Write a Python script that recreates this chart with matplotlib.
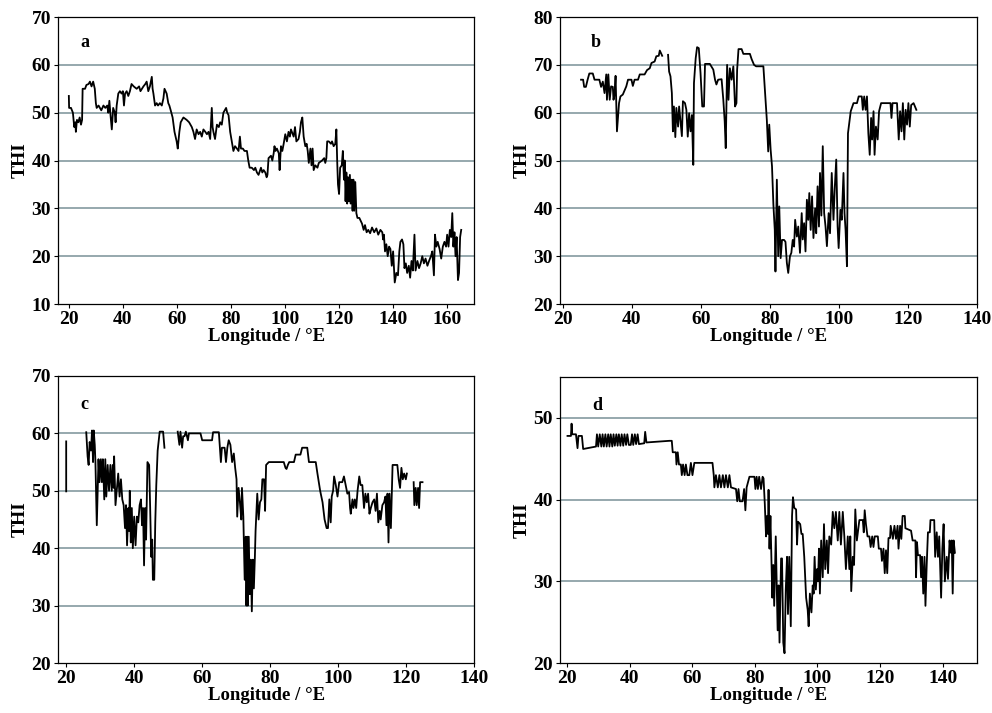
import numpy as np
import matplotlib
matplotlib.use("Agg")
import matplotlib.pyplot as plt

nan = np.nan

# (longitude in °E, THI) along each cruise track; nan marks a gap in the record
track_a = [
    (20.0, 53.5), (20.1, 51.0), (20.8, 51.0), (21.5, 50.0), (22.0, 47.0), (22.4, 48.0), (22.6, 46.0),
    (23.0, 48.5), (23.5, 48.0), (24.0, 49.0), (24.5, 47.5), (24.9, 48.5), (25.1, 55.0), (26.0, 55.0),
    (26.5, 55.8), (27.3, 56.0), (27.8, 56.5), (28.4, 55.5), (29.0, 56.5), (29.6, 55.0), (30.0, 52.0),
    (30.3, 51.0), (31.0, 51.5), (32.0, 50.5), (32.8, 51.5), (33.5, 51.0), (34.2, 51.5), (34.6, 50.0),
    (35.0, 52.5), (35.5, 49.0), (35.9, 46.5), (36.4, 51.0), (37.0, 50.0), (37.3, 48.0), (37.7, 51.5),
    (38.3, 54.0), (38.9, 54.5), (39.5, 54.0), (40.0, 54.5), (40.4, 51.5), (40.8, 54.0), (41.4, 54.5),
    (42.0, 53.5), (42.6, 54.5), (43.2, 56.0), (44.0, 55.5), (45.1, 55.0), (46.0, 55.5), (46.5, 54.5),
    (47.6, 55.5), (48.3, 56.0), (48.8, 56.5), (49.4, 54.5), (50.0, 55.5), (50.7, 57.5), (51.0, 55.0),
    (51.3, 54.0), (51.9, 51.5), (52.5, 52.0), (53.0, 51.5), (53.7, 52.0), (54.4, 51.5), (55.0, 53.0),
    (55.4, 55.0), (56.2, 54.0), (56.8, 52.0), (57.2, 51.5), (57.7, 50.5), (58.4, 49.0), (59.1, 46.0),
    (59.5, 45.0), (59.9, 44.0), (60.3, 42.5), (60.9, 46.0), (61.4, 48.0), (62.4, 49.0), (63.6, 48.5),
    (64.5, 48.0), (65.5, 47.0), (66.1, 46.0), (66.7, 44.5), (67.3, 46.5), (68.0, 45.5), (68.6, 46.0),
    (69.2, 45.0), (69.8, 46.5), (70.5, 46.0), (71.1, 45.5), (71.7, 46.0), (72.3, 44.5), (72.9, 51.0),
    (73.2, 47.0), (73.5, 46.0), (74.1, 44.5), (74.8, 47.5), (75.5, 47.0), (76.0, 48.0), (76.6, 47.5),
    (77.2, 50.0), (77.7, 50.5), (78.2, 51.0), (78.6, 50.0), (79.1, 49.5), (79.7, 46.0), (80.3, 44.0),
    (80.6, 43.0), (80.9, 42.0), (81.5, 43.0), (82.2, 42.5), (82.8, 42.0), (83.3, 45.0), (83.7, 42.5),
    (84.4, 42.5), (85.0, 42.0), (85.9, 42.0), (86.4, 40.0), (86.9, 38.5), (87.7, 38.5), (88.5, 38.0),
    (89.0, 38.5), (89.6, 37.5), (90.2, 37.0), (91.1, 38.5), (91.6, 37.5), (92.1, 38.0), (92.7, 37.5),
    (93.2, 36.5), (93.5, 37.0), (93.9, 40.5), (94.8, 41.0), (95.3, 40.0), (95.8, 41.5), (96.1, 43.0),
    (96.5, 42.0), (97.0, 42.5), (97.7, 41.5), (98.0, 38.0), (98.5, 43.0), (99.0, 42.0), (99.5, 43.5),
    (100.1, 45.5), (100.7, 44.0), (101.3, 46.0), (101.8, 45.0), (102.2, 46.5), (103.2, 45.0),
    (103.7, 47.0), (104.2, 44.0), (105.0, 44.5), (105.5, 46.0), (105.9, 48.0), (106.4, 49.0),
    (106.9, 45.0), (107.5, 43.0), (108.0, 43.5), (108.4, 42.0), (108.8, 39.5), (109.4, 42.5),
    (109.8, 39.0), (110.2, 42.5), (110.6, 38.0), (111.2, 39.0), (112.0, 38.5), (112.5, 39.5),
    (113.7, 40.0), (114.5, 40.5), (114.9, 39.5), (115.3, 40.5), (115.6, 44.0), (116.2, 44.0),
    (117.0, 43.5), (117.4, 44.0), (118.0, 43.0), (118.6, 43.5), (119.0, 46.5), (119.3, 40.0),
    (119.6, 35.0), (120.0, 33.0), (120.4, 38.5), (121.0, 39.0), (121.4, 42.0), (121.8, 36.0),
    (122.1, 40.0), (122.4, 31.5), (122.7, 37.5), (123.0, 31.0), (123.3, 36.5), (123.6, 31.5),
    (124.0, 37.0), (124.3, 31.0), (124.7, 36.0), (125.0, 29.5), (125.3, 36.0), (125.6, 29.5),
    (126.0, 35.5), (126.4, 29.0), (126.8, 28.0), (127.5, 28.0), (128.5, 26.8), (129.1, 25.5),
    (129.6, 26.5), (130.2, 25.0), (130.8, 25.5), (131.5, 24.8), (132.2, 26.0), (133.0, 25.0),
    (133.8, 25.8), (134.5, 24.5), (135.3, 25.5), (136.0, 25.0), (136.3, 23.5), (136.6, 24.5),
    (137.0, 21.0), (137.5, 22.5), (138.0, 20.0), (138.5, 22.0), (139.0, 21.5), (139.5, 18.0),
    (140.0, 21.0), (140.6, 14.5), (141.2, 16.5), (141.8, 16.0), (142.3, 21.0), (142.7, 23.0),
    (143.3, 23.5), (143.8, 22.5), (144.2, 17.5), (144.7, 18.5), (145.2, 16.5), (145.8, 18.0),
    (146.3, 15.5), (146.8, 19.0), (147.3, 17.0), (147.9, 24.5), (148.3, 17.0), (149.0, 19.0),
    (149.6, 17.5), (150.2, 18.5), (150.8, 20.0), (151.4, 18.5), (152.0, 19.5), (152.7, 18.0),
    (153.3, 19.0), (154.0, 20.0), (154.5, 21.0), (155.1, 16.0), (155.5, 24.5), (156.0, 22.0),
    (156.5, 23.0), (157.2, 21.5), (157.8, 19.5), (158.4, 22.0), (159.0, 23.0), (159.6, 22.0),
    (160.0, 24.5), (160.5, 22.0), (161.0, 25.5), (161.5, 24.0), (161.9, 29.0), (162.3, 22.0),
    (162.7, 25.0), (163.1, 20.0), (163.5, 24.0), (164.0, 15.0), (164.4, 16.5), (164.8, 24.0),
    (165.2, 25.5),
]

track_b = [
    (25.3, 66.9), (25.9, 66.9), (26.2, 65.4), (26.7, 65.4), (27.2, 66.9), (27.7, 68.2), (28.7, 68.2),
    (29.2, 66.9), (30.6, 66.9), (31.1, 65.4), (31.6, 66.5), (32.1, 64.1), (32.6, 68.0), (32.8, 62.7),
    (33.2, 68.0), (33.6, 62.7), (34.0, 65.5), (34.5, 65.4), (34.7, 62.7), (35.0, 63.8), (35.3, 67.7),
    (35.7, 56.1), (36.3, 62.0), (36.7, 63.4), (37.4, 63.8), (38.4, 65.5), (38.9, 66.9), (39.9, 66.9),
    (40.3, 65.6), (40.8, 66.9), (41.8, 66.9), (42.3, 68.0), (43.7, 68.0), (44.4, 68.9), (45.2, 69.3),
    (45.7, 70.4), (46.6, 70.7), (47.1, 71.8), (47.8, 71.9), (48.1, 73.0), (48.8, 71.9), (49.5, nan),
    (50.5, 72.1), (50.8, 68.6), (51.2, 67.6), (51.6, 64.1), (51.9, 56.1), (52.2, 61.3), (52.6, 54.9),
    (52.9, 61.0), (53.4, 57.1), (53.7, 61.3), (54.1, 58.2), (54.5, 55.1), (54.8, 62.4), (55.4, 62.0),
    (55.8, 60.6), (56.2, 55.0), (56.6, 59.9), (57.0, 56.1), (57.4, 59.5), (57.8, 49.1), (58.0, 66.2),
    (58.5, 71.4), (58.9, 73.7), (59.4, 73.5), (59.9, 68.3), (60.4, 61.3), (60.9, 61.3), (61.2, 70.2),
    (62.6, 70.2), (63.6, 69.0), (64.1, 66.9), (64.5, 65.9), (65.0, 66.9), (66.0, 67.0), (66.5, 62.7),
    (66.9, 58.2), (67.2, 52.6), (67.6, 70.0), (68.0, 62.7), (68.4, 69.3), (68.9, 66.9), (69.4, 69.7),
    (69.9, 61.3), (70.3, 62.0), (70.5, 69.0), (70.9, 73.3), (71.8, 73.3), (72.3, 72.3), (74.2, 72.3),
    (74.7, 71.2), (75.4, 70.0), (76.0, 69.7), (78.1, 69.7), (78.6, 64.1), (79.1, 58.5), (79.5, 51.9),
    (79.8, 57.5), (80.2, 52.3), (80.6, 48.8), (81.0, 40.8), (81.4, 35.5), (81.6, 26.8), (82.0, 46.0),
    (82.4, 30.0), (82.7, 40.4), (83.1, 29.6), (83.5, 33.4), (84.1, 33.4), (84.5, 33.0), (84.9, 28.6),
    (85.3, 26.5), (85.8, 30.0), (86.2, 30.7), (86.6, 33.4), (87.0, 32.0), (87.3, 37.6), (87.8, 34.1),
    (88.2, 36.2), (88.7, 30.7), (89.2, 39.0), (89.5, 33.5), (89.9, 36.9), (90.3, 31.0), (90.7, 41.8),
    (91.1, 37.6), (91.4, 43.2), (91.8, 35.5), (92.2, 42.5), (92.6, 33.8), (93.1, 40.0), (93.4, 34.8),
    (93.8, 44.6), (94.2, 36.2), (94.5, 47.4), (94.9, 38.5), (95.3, 53.0), (95.7, 39.0), (96.1, 36.2),
    (96.5, 32.1), (97.0, 39.0), (97.4, 34.8), (97.9, 47.4), (98.4, 37.6), (98.8, 44.6), (99.2, 50.2),
    (99.6, 36.2), (99.9, 31.7), (100.4, 39.7), (100.8, 37.6), (101.3, 47.4), (101.6, 39.0),
    (101.9, 35.5), (102.3, 27.9), (102.6, 55.7), (103.1, 58.5), (103.4, 60.3), (104.2, 62.0),
    (105.2, 62.0), (105.7, 63.4), (106.6, 63.4), (106.9, 60.6), (107.3, 63.4), (107.7, 60.6),
    (108.1, 63.4), (108.5, 55.7), (108.9, 51.2), (109.3, 58.9), (109.6, 54.4), (110.0, 60.3),
    (110.3, 51.2), (110.7, 57.1), (111.2, 54.4), (111.6, 60.3), (112.2, 62.0), (114.9, 62.0),
    (115.2, 58.9), (115.5, 62.0), (116.8, 62.0), (117.3, 54.4), (117.7, 60.3), (118.1, 56.1),
    (118.5, 62.0), (118.9, 54.4), (119.3, 60.6), (119.7, 57.5), (120.1, 62.0), (120.5, 57.1),
    (120.9, 61.6), (121.6, 62.0), (122.4, 60.6),
]

track_c = [
    (20.0, 58.6), (20.0, 49.9), (23.0, nan), (25.9, 60.2), (26.3, 56.0), (26.6, 54.5), (26.9, 58.5),
    (27.3, 57.0), (27.6, 60.5), (27.9, 55.0), (28.1, 60.5), (28.4, 58.0), (28.6, 55.0), (29.0, 44.0),
    (29.5, 55.5), (29.8, 51.5), (30.2, 55.5), (30.5, 51.5), (30.8, 55.5), (31.2, 48.5), (31.5, 55.5),
    (31.8, 49.0), (32.2, 54.5), (32.6, 50.0), (33.0, 54.5), (33.4, 50.0), (33.7, 54.5), (34.0, 50.5),
    (34.1, 56.0), (34.5, 47.5), (35.0, 51.0), (35.3, 53.0), (35.7, 49.0), (36.1, 52.0), (36.5, 48.5),
    (36.9, 47.5), (37.3, 43.5), (37.6, 47.5), (37.9, 40.5), (38.3, 47.0), (38.5, 43.0), (38.7, 50.0),
    (39.0, 41.0), (39.3, 47.0), (39.6, 40.0), (40.0, 45.5), (40.4, 40.5), (40.8, 45.5), (41.2, 44.5),
    (41.6, 47.5), (42.0, 48.5), (42.3, 44.0), (42.6, 47.0), (42.9, 37.0), (43.2, 47.0), (43.5, 41.5),
    (43.9, 55.0), (44.4, 54.5), (44.7, 47.0), (45.0, 38.5), (45.3, 41.5), (45.5, 34.5), (45.9, 34.5),
    (46.2, 44.5), (46.5, 51.0), (46.9, 57.0), (47.5, 60.3), (48.5, 60.3), (48.9, 57.5), (51.0, nan),
    (52.8, 60.3), (53.3, 58.0), (53.6, 60.3), (54.1, 57.5), (54.4, 59.5), (54.8, 59.5), (55.2, 60.3),
    (55.8, 58.8), (56.1, 60.0), (57.5, 60.0), (59.5, 60.0), (60.0, 58.8), (62.9, 58.8), (63.2, 60.2),
    (64.9, 60.2), (65.2, 57.5), (65.5, 55.0), (65.8, 57.5), (66.6, 57.5), (67.0, 55.0), (67.4, 57.5),
    (67.8, 58.8), (68.3, 58.0), (68.8, 55.0), (69.3, 56.5), (69.7, 54.0), (70.1, 52.0), (70.3, 45.5),
    (70.7, 50.5), (71.1, 48.0), (71.5, 45.0), (71.7, 50.5), (72.1, 45.5), (72.5, 34.5), (72.8, 42.0),
    (73.0, 30.0), (73.3, 42.0), (73.4, 30.0), (73.7, 42.0), (74.0, 32.0), (74.3, 38.0), (74.6, 29.0),
    (74.9, 38.0), (75.2, 33.0), (75.5, 38.5), (75.7, 43.0), (76.2, 49.5), (76.6, 45.0), (77.0, 48.0),
    (77.4, 48.5), (77.7, 52.0), (78.2, 52.0), (78.5, 46.5), (78.8, 54.5), (79.6, 55.0), (84.0, 55.0),
    (84.5, 54.0), (84.8, 53.8), (85.2, 54.5), (85.6, 55.0), (87.0, 55.0), (87.5, 56.3), (88.9, 56.3),
    (89.4, 57.5), (90.9, 57.5), (91.4, 55.0), (93.4, 55.0), (93.9, 53.0), (94.7, 50.0), (95.4, 48.0),
    (96.0, 45.0), (96.6, 43.5), (97.0, 43.5), (97.4, 48.5), (97.8, 44.5), (98.1, 49.0), (98.5, 50.0),
    (98.8, 52.5), (99.3, 51.0), (99.8, 49.0), (100.3, 51.5), (101.2, 51.5), (101.7, 52.5),
    (102.2, 51.0), (102.7, 49.5), (103.2, 49.8), (103.5, 47.0), (103.7, 46.0), (104.2, 48.5),
    (104.5, 47.0), (104.9, 48.5), (105.3, 47.0), (105.7, 50.0), (106.2, 52.5), (106.6, 51.0),
    (107.1, 51.0), (107.6, 47.0), (108.0, 49.5), (108.4, 48.0), (108.8, 49.5), (109.2, 46.0),
    (109.6, 47.0), (110.1, 48.0), (110.6, 48.5), (111.0, 46.5), (111.4, 49.5), (111.8, 44.5),
    (112.2, 46.5), (112.5, 45.0), (113.0, 47.5), (113.5, 48.0), (113.9, 49.0), (114.2, 44.0),
    (114.5, 49.5), (114.8, 41.0), (115.1, 49.5), (115.5, 43.5), (116.0, 54.5), (117.4, 54.5),
    (117.8, 52.0), (118.2, 50.5), (118.6, 54.0), (119.0, 52.0), (119.4, 53.0), (119.9, 52.0),
    (120.2, 53.0), (121.2, nan), (122.2, 51.5), (122.4, 47.5), (122.8, 50.5), (123.1, 47.5),
    (123.5, 50.5), (123.8, 47.0), (124.1, 51.5), (124.8, 51.5),
]

track_d = [
    (20.2, 47.8), (21.3, 47.8), (21.5, 49.3), (21.7, 48.0), (22.9, 48.0), (23.4, 46.3), (23.7, 47.8),
    (24.8, 47.8), (25.2, 46.2), (29.3, 46.5), (29.6, 48.0), (30.0, 46.5), (30.5, 48.0), (31.0, 46.5),
    (31.4, 48.0), (31.8, 46.5), (32.3, 48.0), (32.7, 46.5), (33.2, 48.0), (33.6, 46.5), (34.0, 48.0),
    (34.5, 46.5), (34.9, 48.0), (35.3, 46.6), (35.8, 48.0), (36.2, 46.6), (36.6, 48.0), (37.1, 46.6),
    (37.5, 48.0), (38.0, 46.6), (38.4, 48.0), (38.9, 46.7), (39.3, 48.0), (39.8, 46.7), (40.4, 46.7),
    (40.8, 48.0), (41.2, 46.7), (41.7, 48.0), (42.1, 46.8), (42.6, 48.0), (43.0, 46.8), (44.7, 46.9),
    (45.0, 48.3), (45.4, 47.0), (52.7, 47.2), (53.5, 47.2), (53.8, 45.8), (54.8, 45.8), (55.0, 44.3),
    (55.4, 45.8), (55.8, 44.3), (56.4, 44.3), (56.7, 43.0), (57.1, 44.3), (57.6, 43.0), (58.0, 44.3),
    (58.5, 43.0), (59.1, 43.0), (59.6, 44.5), (60.1, 43.0), (60.7, 44.5), (63.3, 44.5), (66.5, 44.5),
    (66.9, 43.0), (67.1, 41.5), (67.6, 43.0), (68.2, 41.5), (68.7, 43.0), (69.2, 41.5), (69.8, 43.0),
    (70.3, 41.5), (70.8, 43.0), (71.4, 41.5), (71.9, 43.0), (72.4, 41.5), (74.0, 41.3), (74.4, 39.8),
    (74.8, 41.3), (75.2, 39.8), (76.1, 39.8), (76.6, 41.3), (77.0, 38.7), (77.4, 41.5), (78.3, 42.8),
    (79.9, 42.8), (80.2, 41.3), (80.6, 42.8), (81.0, 41.3), (81.4, 42.8), (82.0, 41.3), (82.5, 42.8),
    (82.8, 42.6), (83.2, 39.5), (83.6, 35.5), (83.9, 38.0), (84.2, 35.8), (84.4, 41.2), (84.7, 34.0),
    (85.0, 38.0), (85.3, 32.8), (85.6, 28.0), (85.9, 32.0), (86.2, 27.0), (86.7, 35.5), (87.0, 30.0),
    (87.3, 24.0), (87.6, 29.5), (87.9, 22.5), (88.4, 32.8), (88.7, 32.8), (89.1, 22.5), (89.5, 21.2),
    (89.9, 29.0), (90.3, 33.0), (90.6, 26.0), (91.0, 33.0), (91.5, 24.5), (91.9, 38.0), (92.2, 40.3),
    (92.6, 39.0), (93.2, 38.8), (93.5, 34.5), (93.8, 37.3), (94.5, 37.0), (94.9, 35.8), (95.3, 35.8),
    (95.8, 33.0), (96.4, 28.0), (96.9, 26.5), (97.2, 24.5), (97.6, 28.5), (98.1, 26.2), (98.5, 29.5),
    (98.8, 28.5), (99.1, 33.0), (99.5, 29.0), (99.9, 31.5), (100.2, 30.0), (100.5, 34.0), (100.8, 28.5),
    (101.2, 35.0), (101.7, 30.5), (102.1, 37.0), (102.5, 31.5), (103.0, 35.0), (103.4, 31.0),
    (103.8, 35.5), (104.4, 34.5), (104.9, 38.5), (105.4, 36.5), (105.9, 38.5), (106.5, 35.0),
    (107.0, 38.5), (107.5, 34.5), (108.1, 38.5), (108.6, 35.5), (109.1, 31.5), (109.7, 35.5),
    (110.2, 31.5), (110.5, 35.5), (110.8, 28.8), (111.3, 33.0), (111.7, 32.0), (112.1, 38.8),
    (112.6, 35.0), (113.4, 37.5), (114.5, 37.5), (114.8, 36.0), (115.1, 38.7), (115.5, 37.0),
    (116.0, 35.5), (116.6, 35.5), (117.0, 34.2), (117.5, 35.5), (117.9, 34.2), (118.3, 35.5),
    (119.3, 35.5), (119.6, 34.0), (120.3, 34.0), (120.6, 32.5), (121.1, 34.0), (121.5, 31.0),
    (121.9, 33.8), (122.3, 31.0), (122.7, 35.3), (123.2, 35.3), (123.4, 36.8), (124.1, 35.2),
    (124.6, 36.8), (125.1, 35.2), (125.6, 36.8), (125.9, 34.0), (126.4, 36.8), (126.8, 35.2),
    (127.2, 38.0), (127.9, 38.0), (128.1, 36.5), (129.9, 36.2), (130.4, 35.0), (131.3, 35.0),
    (131.5, 30.5), (131.8, 34.8), (132.1, 33.2), (132.8, 33.2), (133.1, 30.5), (133.4, 33.0),
    (133.8, 28.5), (134.2, 33.0), (134.5, 27.0), (134.9, 32.0), (135.3, 36.0), (135.9, 36.0),
    (136.1, 37.5), (137.3, 37.5), (137.6, 33.0), (138.1, 36.0), (138.5, 33.0), (138.9, 35.5),
    (139.5, 28.0), (139.9, 34.0), (140.3, 37.0), (140.7, 30.0), (141.3, 33.0), (141.7, 30.3),
    (142.2, 35.0), (142.6, 33.5), (142.9, 35.0), (143.2, 28.5), (143.5, 35.0), (143.9, 33.5),
]

panel_letters = ["a", "b", "c", "d"]
x_ticks = [np.arange(20, 161, 20), np.arange(20, 141, 20), np.arange(20, 141, 20), np.arange(20, 141, 20)]
y_ticks = [np.arange(10, 71, 10), np.arange(20, 81, 10), np.arange(20, 71, 10), np.arange(20, 51, 10)]
x_limits = [(16, 170), (19.2, 140), (17.6, 140), (17.8, 151)]
y_limits = [(10, 70), (20, 80), (20, 70), (20, 55)]

# axes boxes in figure fractions [left, bottom, width, height]
boxes = [
    [0.0585, 0.5736, 0.4195, 0.4025],
    [0.5645, 0.5736, 0.4205, 0.4025],
    [0.0585, 0.0701, 0.4195, 0.4026],
    [0.5645, 0.0701, 0.4205, 0.4010],
]
letter_pos = [(0.053, 0.91), (0.074, 0.91), (0.053, 0.90), (0.077, 0.90)]

plt.rcParams["font.family"] = ["Liberation Serif", "DejaVu Serif"]
plt.rcParams["font.weight"] = "bold"

fig = plt.figure(figsize=(9.92, 7.13), dpi=100)
grid_color = "#849a9f"

for i, track in enumerate([track_a, track_b, track_c, track_d]):
    lon, thi = np.array(track, dtype=float).T
    ax = fig.add_axes(boxes[i])
    for v in y_ticks[i]:
        if y_limits[i][0] < v < y_limits[i][1]:
            ax.axhline(v, color=grid_color, lw=1.2, zorder=1)
    ax.plot(lon, thi, color="black", lw=1.3, zorder=3)
    ax.set_xlim(*x_limits[i])
    ax.set_ylim(*y_limits[i])
    ax.set_xticks(x_ticks[i])
    ax.set_yticks(y_ticks[i])
    ax.tick_params(direction="out", length=3, width=0.8, labelsize=14, pad=2)
    for lbl in ax.get_xticklabels() + ax.get_yticklabels():
        lbl.set_fontweight("bold")
    for sp in ax.spines.values():
        sp.set_linewidth(0.9)
    ax.set_xlabel("Longitude / °E", fontsize=13.5, fontweight="bold", labelpad=0)
    ax.set_ylabel("THI", fontsize=14, fontweight="bold", labelpad=2)
    ax.text(letter_pos[i][0], letter_pos[i][1], panel_letters[i], transform=ax.transAxes,
            fontsize=13, fontweight="bold", va="center", ha="left")

fig.savefig("out.png", dpi=100)
